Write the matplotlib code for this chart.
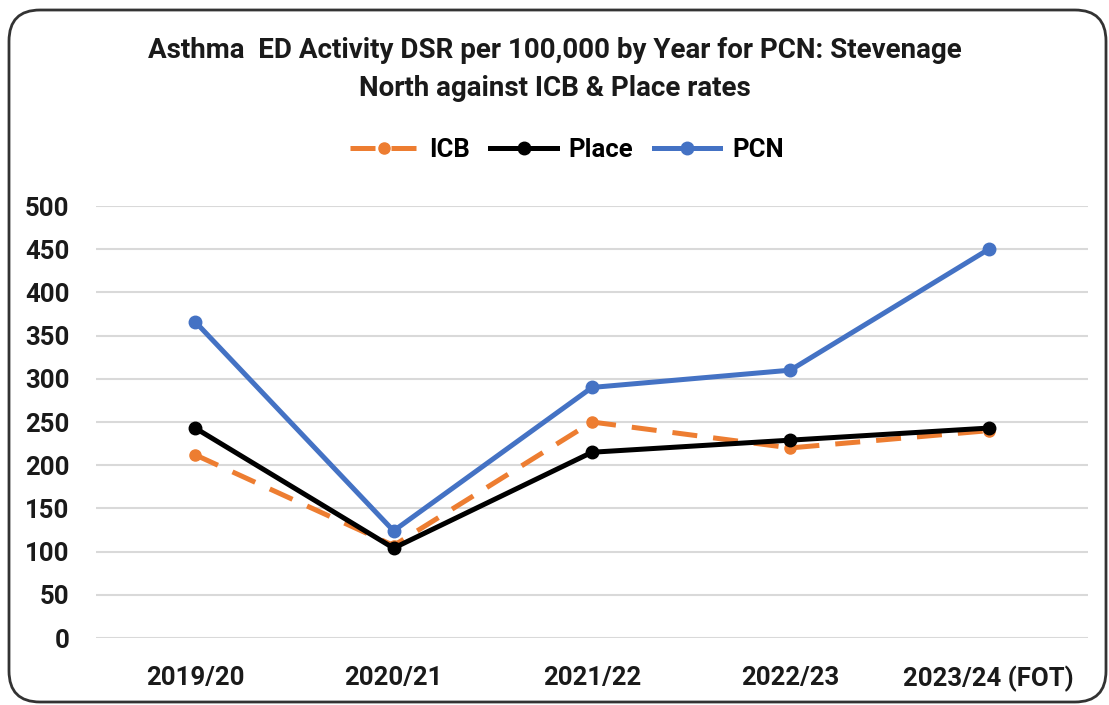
import matplotlib
matplotlib.use("Agg")
import matplotlib.pyplot as plt
from matplotlib.patches import FancyBboxPatch

categories = ["2019/20", "2020/21", "2021/22", "2022/23", "2023/24 (FOT)"]
icb = [212, 107, 250, 220, 240]
place = [243, 104, 215, 229, 243]
pcn = [366, 124, 290, 310, 450]
yticks = [0, 50, 100, 150, 200, 250, 300, 350, 400, 450, 500]

plt.rcParams['font.family'] = ['Roboto', 'DejaVu Sans']
plt.rcParams['font.weight'] = 'bold'

W, H = 1109, 705
fig = plt.figure(figsize=(W/100, H/100), dpi=100)
ax = fig.add_axes([96/W, 1 - 638/H, (1088-96)/W, (638-206)/H])

x = list(range(len(categories)))
ax.plot(x, icb, color="#ED7D31", lw=3.6, dashes=(5, 3.2), marker='o', ms=8, label="ICB", zorder=3)
ax.plot(x, place, color="black", lw=3.6, marker='o', ms=9, label="Place", zorder=4)
ax.plot(x, pcn, color="#4472C4", lw=3.6, marker='o', ms=9, label="PCN", zorder=5)

ax.set_xlim(-0.5, len(categories) - 0.5)
ax.set_ylim(0, 500)
ax.set_yticks(yticks)
ax.set_xticks(x)
ax.set_xticklabels(categories)
ax.grid(axis='y', color="#D9D9D9", lw=1.5)
ax.set_axisbelow(True)
for s in ax.spines.values():
    s.set_visible(False)
ax.tick_params(length=0, labelsize=18.5, colors="#1a1a1a")
for lab in ax.get_xticklabels() + ax.get_yticklabels():
    lab.set_fontweight('bold')
ax.tick_params(axis='y', pad=19)
ax.tick_params(axis='x', pad=20)

fig.text(0.5, 1 - 50/H, "Asthma  ED Activity DSR per 100,000 by Year for PCN: Stevenage",
         ha='center', va='center', fontsize=20, fontweight='bold', color="#1a1a1a")
fig.text(0.5, 1 - 88/H, "North against ICB & Place rates",
         ha='center', va='center', fontsize=20, fontweight='bold', color="#1a1a1a")

leg = fig.legend(loc='center', bbox_to_anchor=(567/W, 1 - 150/H), ncol=3, frameon=False,
                 prop={'size': 18.5, 'weight': 'bold'}, handlelength=2.6, columnspacing=0.8, handletextpad=0.45)

box = FancyBboxPatch((9/W, 1 - 702/H), (1106-9)/W, (702-10)/H, boxstyle="round,pad=0,rounding_size=0.028",
                     transform=fig.transFigure, fill=False, edgecolor="#333333", lw=2, mutation_aspect=W/H)
fig.patches.append(box)

fig.savefig("out.png", dpi=100)
